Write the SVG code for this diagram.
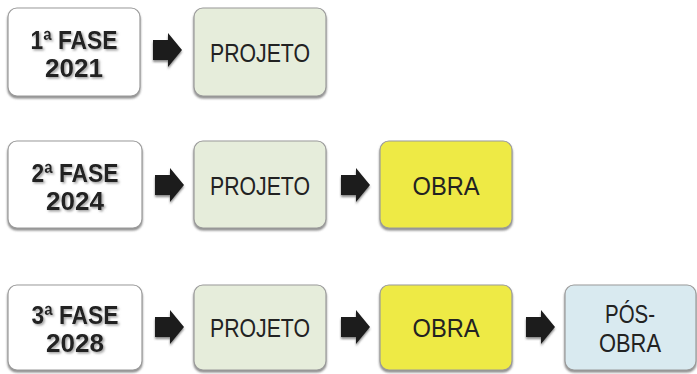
<svg xmlns="http://www.w3.org/2000/svg" width="697" height="374" viewBox="0 0 697 374">
<defs>
<filter id="sh" x="-10%" y="-10%" width="120%" height="130%">
<feDropShadow dx="0" dy="2" stdDeviation="1.2" flood-color="#555" flood-opacity="0.7"/>
</filter>
<filter id="tsh" x="-10%" y="-20%" width="130%" height="150%">
<feDropShadow dx="1.5" dy="1.5" stdDeviation="1" flood-color="#888" flood-opacity="0.8"/>
</filter>
<path id="arr" d="M0,-10 H15 V-17 L29,0 L15,17 V10 H0 Z"/>
</defs>
<style>
.box{stroke:#9a9a9a;stroke-width:1.2;filter:url(#sh)}
.fase{fill:#ffffff}
.proj{fill:#e6eddb}
.obra{fill:#eeea44}
.pos{fill:#d9eaf0}
.t{font-family:"Liberation Sans",Arial,sans-serif;font-size:26px;fill:#222;text-anchor:middle}
.b{font-family:"Liberation Sans",Arial,sans-serif;font-size:26px;font-weight:bold;fill:#222;text-anchor:middle;filter:url(#tsh)}
.a{fill:#1a1a1a;filter:url(#sh)}
</style>
<rect width="697" height="374" fill="#ffffff"/>
<g id="fase1">
<rect class="box fase" x="8" y="8" width="132" height="88" rx="9"/>
<text class="b" x="74" y="49" textLength="87" lengthAdjust="spacingAndGlyphs">1ª FASE</text>
<text class="b" x="74" y="77" textLength="58" lengthAdjust="spacingAndGlyphs">2021</text>
</g>
<g id="projeto1">
<rect class="box proj" x="194" y="8" width="132" height="88" rx="9"/>
<text class="t" x="260" y="62" textLength="100" lengthAdjust="spacingAndGlyphs">PROJETO</text>
</g>
<g id="fase2">
<rect class="box fase" x="8" y="141" width="134" height="87" rx="9"/>
<text class="b" x="75" y="182" textLength="87" lengthAdjust="spacingAndGlyphs">2ª FASE</text>
<text class="b" x="75" y="210" textLength="58" lengthAdjust="spacingAndGlyphs">2024</text>
</g>
<g id="projeto2">
<rect class="box proj" x="194" y="141" width="132" height="87" rx="9"/>
<text class="t" x="260" y="195" textLength="100" lengthAdjust="spacingAndGlyphs">PROJETO</text>
</g>
<g id="obra2">
<rect class="box obra" x="380" y="141" width="132" height="87" rx="9"/>
<text class="t" x="446" y="195" textLength="67" lengthAdjust="spacingAndGlyphs">OBRA</text>
</g>
<g id="fase3">
<rect class="box fase" x="8" y="285" width="134" height="85" rx="9"/>
<text class="b" x="75" y="324" textLength="87" lengthAdjust="spacingAndGlyphs">3ª FASE</text>
<text class="b" x="75" y="352" textLength="58" lengthAdjust="spacingAndGlyphs">2028</text>
</g>
<g id="projeto3">
<rect class="box proj" x="194" y="285" width="132" height="85" rx="9"/>
<text class="t" x="260" y="337" textLength="100" lengthAdjust="spacingAndGlyphs">PROJETO</text>
</g>
<g id="obra3">
<rect class="box obra" x="380" y="285" width="132" height="85" rx="9"/>
<text class="t" x="446" y="337" textLength="67" lengthAdjust="spacingAndGlyphs">OBRA</text>
</g>
<g id="posobra3">
<rect class="box pos" x="565" y="285" width="131" height="85" rx="9"/>
<text class="t" x="630" y="323" textLength="50" lengthAdjust="spacingAndGlyphs">PÓS-</text>
<text class="t" x="630" y="352" textLength="62" lengthAdjust="spacingAndGlyphs">OBRA</text>
</g>
<g id="connectors">
<use class="a" href="#arr" x="153" y="50"/>
<use class="a" href="#arr" x="155" y="185"/>
<use class="a" href="#arr" x="341" y="185"/>
<use class="a" href="#arr" x="155" y="327"/>
<use class="a" href="#arr" x="341" y="327"/>
<use class="a" href="#arr" x="526" y="327"/>
</g>
</svg>
